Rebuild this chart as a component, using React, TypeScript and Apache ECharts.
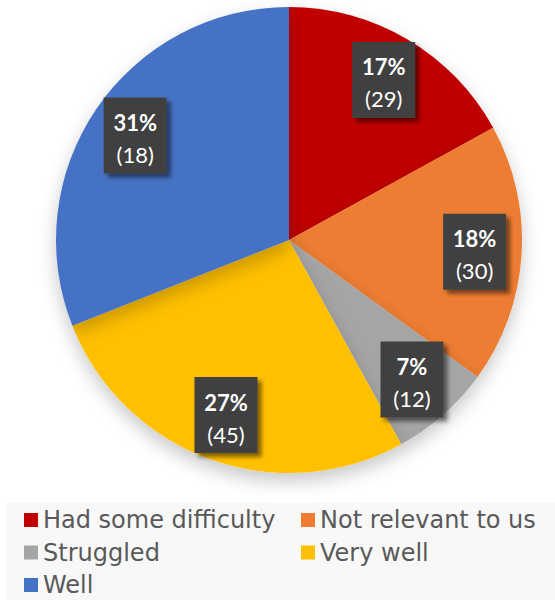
import React, { useEffect, useRef } from "react";
import * as echarts from "echarts";

const categories = ["Had some difficulty", "Not relevant to us", "Struggled", "Very well", "Well"];
const percents = [17, 18, 7, 27, 31];
const counts = [29, 30, 12, 45, 18];
const colors = ["#C00000", "#ED7D31", "#A5A5A5", "#FFC000", "#4472C4"];
const legendCol1 = ["Had some difficulty", "Struggled", "Well"];
const legendCol2 = ["Not relevant to us", "Very well"];

export default function App() {
  const ref = useRef<HTMLDivElement>(null);
  useEffect(() => {
    if (!ref.current) return;
    const chart = echarts.init(ref.current, null, { renderer: "svg" });
    const data = categories.map((name, i) => ({
      name,
      value: percents[i],
      itemStyle: { color: colors[i] },
    }));
    const legendText = { fontFamily: "DejaVu Sans", fontSize: 24, color: "#595959" };
    const legendBase = {
      orient: "vertical",
      top: 508,
      height: 120,
      padding: 0,
      itemWidth: 14,
      itemHeight: 14,
      itemGap: 8.5,
      icon: "rect",
      selectedMode: false,
      textStyle: legendText,
    };
    chart.setOption({
      animation: false,
      color: colors,
      graphic: [
        {
          type: "rect",
          z: 0,
          shape: { x: 6, y: 503, width: 549, height: 97 },
          style: { fill: "#f8f8f8" },
        },
      ],
      legend: [
        { ...legendBase, data: legendCol1, left: 24 },
        { ...legendBase, data: legendCol2, left: 301 },
      ],
      series: [
        {
          type: "pie",
          center: [289, 240],
          radius: 233,
          startAngle: 90,
          clockwise: true,
          label: { show: false },
          labelLine: { show: false },
          itemStyle: {
            shadowColor: "rgba(0,0,0,0.22)",
            shadowBlur: 18,
            shadowOffsetY: 8,
          },
          data,
        },
        {
          type: "pie",
          center: [289, 240],
          radius: [133, 233],
          startAngle: 90,
          clockwise: true,
          silent: true,
          legendHoverLink: false,
          avoidLabelOverlap: false,
          z: 5,
          itemStyle: { color: "rgba(0,0,0,0)" },
          labelLine: { show: false },
          label: {
            show: true,
            position: "inside",
            formatter: (p: any) => `{a|${percents[p.dataIndex]}%}\n{b|(${counts[p.dataIndex]})}`,
            backgroundColor: "#404040",
            padding: [9, 0, 3, 0],
            shadowColor: "rgba(0,0,0,0.5)",
            shadowBlur: 4,
            shadowOffsetX: 4,
            shadowOffsetY: 4,
            rich: {
              a: {
                fontFamily: "Lato",
                fontWeight: "bold",
                fontSize: 22,
                color: "#ffffff",
                lineHeight: 32,
                width: 63,
                align: "center",
              },
              b: {
                fontFamily: "Lato",
                fontSize: 22,
                color: "#ffffff",
                lineHeight: 32,
                width: 63,
                align: "center",
              },
            },
          },
          data: categories.map((name, i) => ({ name, value: percents[i] })),
        },
      ],
    });
    return () => chart.dispose();
  }, []);
  return (
    <div
      ref={ref}
      style={{ position: "fixed", left: 0, top: 0, width: 555, height: 600, background: "#ffffff" }}
    />
  );
}
